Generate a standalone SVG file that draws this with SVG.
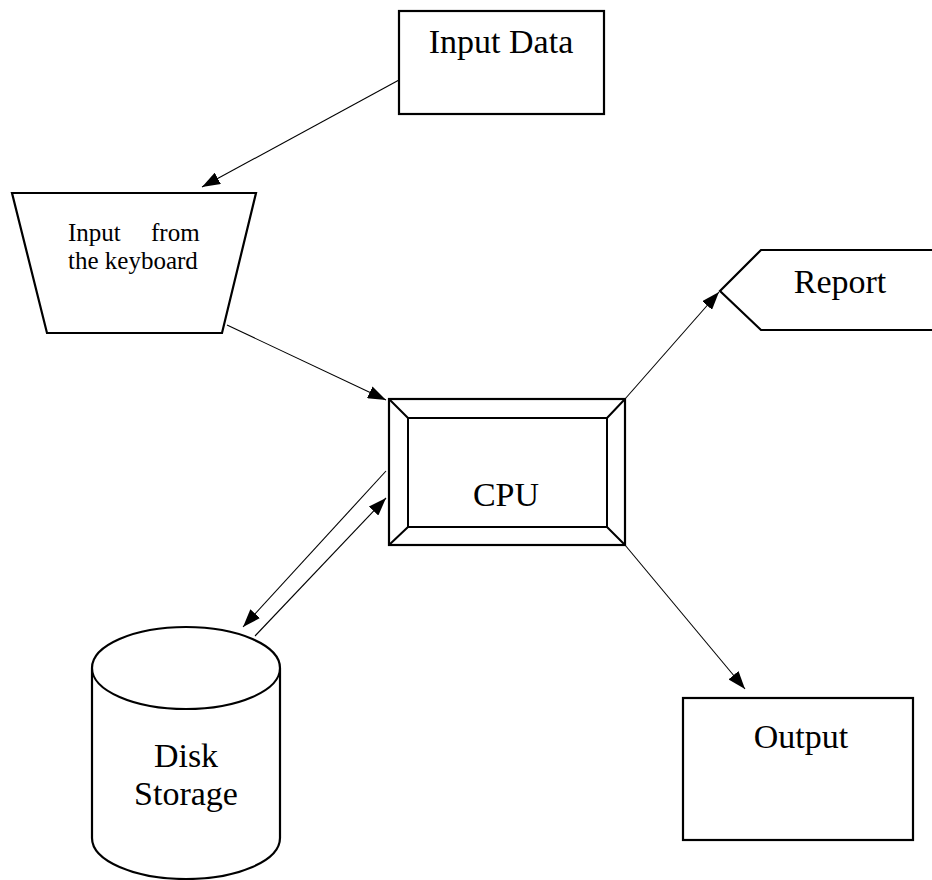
<svg xmlns="http://www.w3.org/2000/svg" width="932" height="880" viewBox="0 0 932 880">
<defs>
<marker id="arr" viewBox="0 0 18 13" refX="18" refY="6.5" markerWidth="18" markerHeight="13" markerUnits="userSpaceOnUse" orient="auto">
<path d="M0,0 L18,6.5 L0,13 Z" fill="#000"/>
</marker>
</defs>
<style>
.shape{fill:#fff;stroke:#000;stroke-width:2.2}
.thin{fill:none;stroke:#000;stroke-width:2}
.conn{fill:none;stroke:#000;stroke-width:1.1}
text{font-family:'Liberation Serif','Times New Roman',Times,'DejaVu Serif',serif;fill:#000}
.lbl{font-size:34px}
.sm{font-size:25px}
</style>
<rect width="932" height="880" fill="#fff"/>
<g id="input-data">
<rect class="shape" x="399" y="11" width="205" height="103"/>
<text class="lbl" x="501" y="53" text-anchor="middle" font-family="Liberation Serif">Input Data</text>
</g>
<g id="keyboard">
<path class="shape" d="M12,193 L256,193 L222,333 L47,333 Z"/>
<text class="sm" x="68" y="241" word-spacing="24" font-family="Liberation Serif">Input from</text>
<text class="sm" x="68" y="269" font-family="Liberation Serif">the keyboard</text>
</g>
<g id="cpu">
<rect class="shape" x="389" y="399" width="236" height="146"/>
<rect class="thin" x="408" y="418" width="199" height="109"/>
<path class="thin" d="M389,399 L408,418 M625,399 L607,418 M389,545 L408,527 M625,545 L607,527"/>
<text class="lbl" x="506" y="506" text-anchor="middle" font-family="Liberation Serif">CPU</text>
</g>
<g id="report">
<path class="shape" d="M940,250 L761,250 L720,291 L761,330 L940,330"/>
<text class="lbl" x="840" y="293" text-anchor="middle" font-family="Liberation Serif">Report</text>
</g>
<g id="output">
<rect class="shape" x="683" y="698" width="230" height="142"/>
<text class="lbl" x="801" y="748" text-anchor="middle" font-family="Liberation Serif">Output</text>
</g>
<g id="disk">
<path class="shape" d="M92,668 L92,838 A94,41 0 0 0 280,838 L280,668 A94,41 0 0 0 92,668 Z"/>
<path class="thin" d="M92,668 A94,41 0 0 0 280,668"/>
<text class="lbl" x="186" y="767" text-anchor="middle" font-family="Liberation Serif">Disk</text>
<text class="lbl" x="186" y="805" text-anchor="middle" font-family="Liberation Serif">Storage</text>
</g>
<g id="connectors">
<line class="conn" x1="399" y1="80" x2="202" y2="187" marker-end="url(#arr)"/>
<line class="conn" x1="227" y1="325" x2="386" y2="400" marker-end="url(#arr)"/>
<line class="conn" x1="625" y1="399" x2="719" y2="292" marker-end="url(#arr)"/>
<line class="conn" x1="625" y1="545" x2="745" y2="689" marker-end="url(#arr)"/>
<line class="conn" x1="386" y1="471" x2="243" y2="627" marker-end="url(#arr)"/>
<line class="conn" x1="255" y1="636" x2="386" y2="498" marker-end="url(#arr)"/>
</g>
</svg>
